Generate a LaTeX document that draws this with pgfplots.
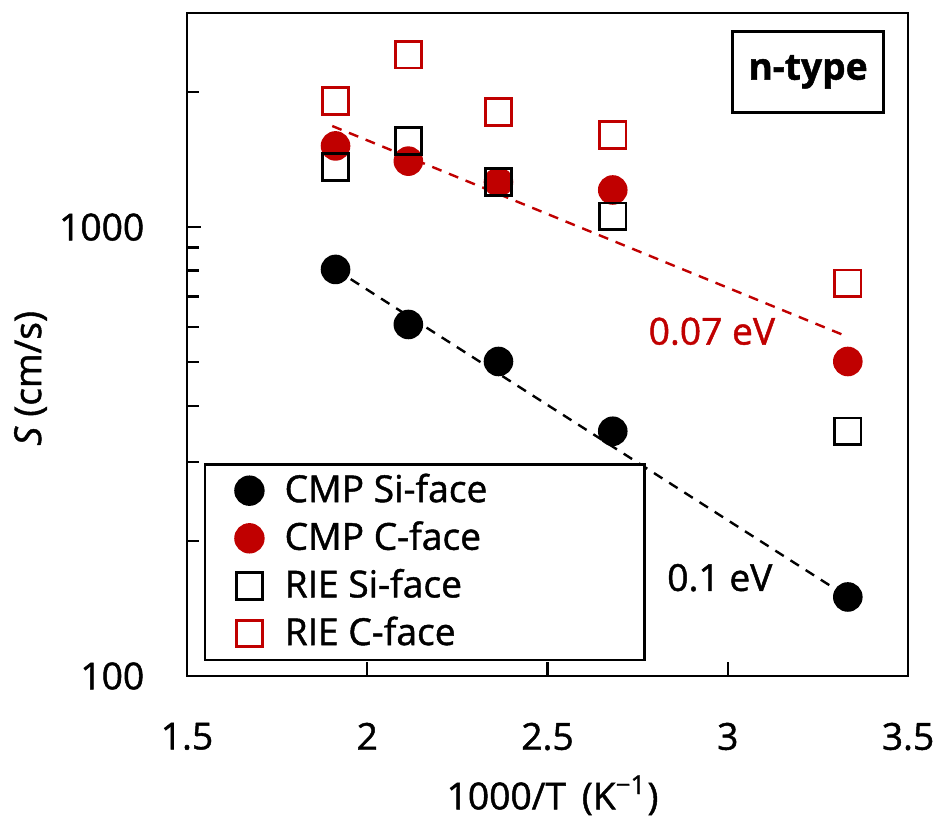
\documentclass[border=0pt]{standalone}
\usepackage{fontspec}
\setmainfont{Open Sans}[RawFeature={embolden=1.2}]
\usepackage{pgfplots}
\pgfplotsset{compat=1.18}
\definecolor{dred}{HTML}{C00000}

\begin{document}
\fontsize{9.3}{11}\selectfont
\begin{tikzpicture}
\useasboundingbox (-46.75pt,-35pt) rectangle (187.75pt,169pt);
\begin{axis}[
  at={(0pt,0pt)}, anchor=south west,
  scale only axis, width=180.25pt, height=165.75pt,
  ymode=log, xmin=1.5, xmax=3.5, ymin=100, ymax=3000,
  xtick={1.5,2,2.5,3,3.5}, xticklabels={1.5,2,2.5,3,3.5},
  ytick={100,1000}, yticklabels={100,1000},
  minor ytick={200,300,400,500,600,700,800,900,2000},
  tick pos=left, tick align=inside,
  major tick length=3.5pt, minor tick length=3pt,
  axis line style={line width=0.7pt},
  tick style={line width=0.6pt, black},
  /pgf/number format/assume math mode=true,
  ticklabel style={font=\fontsize{9.3}{11}\selectfont},
  yticklabel style={xshift=-7.4pt},
  xticklabel style={yshift=-8.4pt},
  every axis y label/.style={at={(axis description cs:-0.217,0.449)}, rotate=90, anchor=center},
  every axis x label/.style={at={(axis description cs:0.507,-0.18)}, anchor=center},
  ylabel={\textit{S} (cm/s)},
  xlabel={1000/T\, (K\textsuperscript{−1})},
  legend style={at={(axis description cs:0.0236,0.0226)}, anchor=south west,
    draw=black, line width=0.6pt, font=\fontsize{9.3}{11}\selectfont,
    row sep=-0.6pt, inner ysep=0.3pt},
  legend cell align=left,
  legend image code/.code={\path (0pt,0pt) (14.25pt,0pt); \draw[#1] plot coordinates {(7.75pt,0pt)};},
]
\addplot[only marks, mark=*, mark size=3.5pt, black] coordinates {
  (1.912,805) (2.114,607) (2.364,502) (2.681,351) (3.333,150)};
\addplot[only marks, mark=*, mark size=3.5pt, dred, mark options={fill=dred}] coordinates {
  (1.912,1517) (2.114,1403) (2.364,1260) (2.681,1210) (3.333,502)};
\addplot[only marks, mark=square, mark size=3.3pt, black, mark options={line width=0.7pt}] coordinates {
  (1.912,1361) (2.114,1556) (2.364,1260) (2.681,1058) (3.333,351)};
\addplot[only marks, mark=square, mark size=3.3pt, dred, mark options={line width=0.7pt}] coordinates {
  (1.912,1910) (2.114,2420) (2.364,1806) (2.681,1604) (3.333,750)};
\addplot[forget plot, dred, line width=0.6pt, dash pattern=on 2.5pt off 2pt] coordinates {
  (1.903,1680) (3.33,571)};
\addplot[forget plot, black, line width=0.6pt, dash pattern=on 2.5pt off 2pt] coordinates {
  (1.912,805) (3.333,150)};
\legend{\makebox[85pt][l]{CMP Si-face}, CMP C-face, RIE Si-face, RIE C-face}
\node[draw=black, line width=0.6pt, minimum width=37.75pt, minimum height=20.25pt,
  font=\fontsize{9.3}{11}\selectfont\bfseries] at (axis cs:3.2226,2218) {n-type};
\node[text=dred, font=\fontsize{9.3}{11}\selectfont] at (axis cs:2.956,586) {0.07 eV};
\node[font=\fontsize{9.3}{11}\selectfont] at (axis cs:2.978,165.6) {0.1 eV};
\end{axis}
\end{tikzpicture}
\end{document}
